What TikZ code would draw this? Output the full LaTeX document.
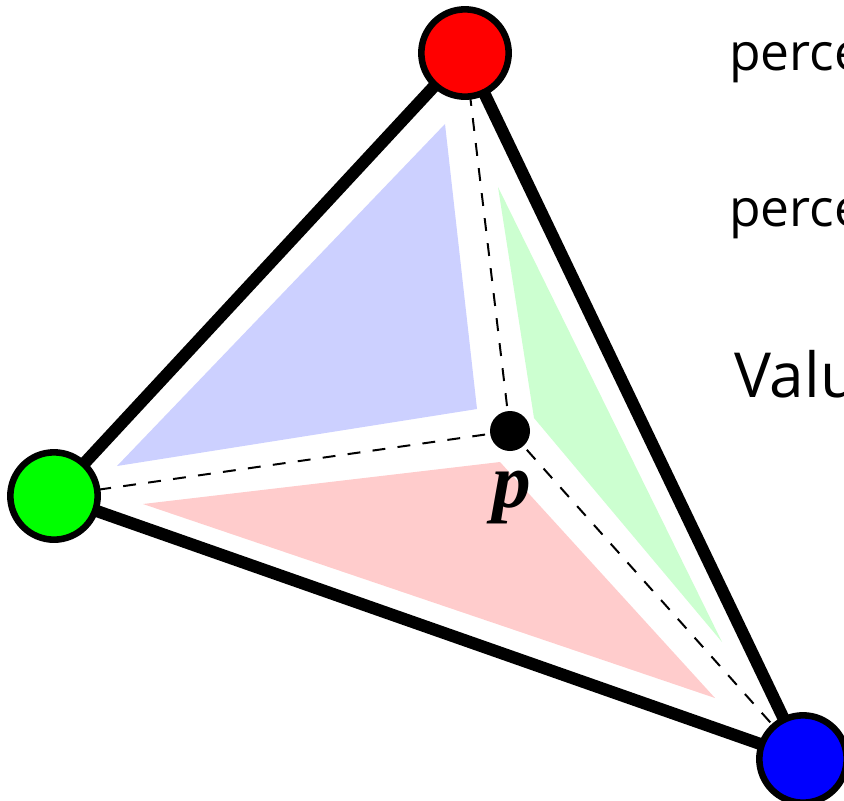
\documentclass[tikz,border=0pt]{standalone}
\usepackage{fontspec}
\setmainfont{Open Sans}
\newfontfamily\pfont{Liberation Serif}
\usetikzlibrary{positioning}
\definecolor{bluearea}{HTML}{CCD0FF}
\definecolor{greenarea}{HTML}{CCFFD0}
\definecolor{redarea}{HTML}{FFCCCC}

\begin{document}
\begin{tikzpicture}[
    x=0.03cm, y=-0.03cm,
    vertex/.style={draw, circle, line width=5.6pt, minimum size=2.62cm, inner sep=0pt, outer sep=0pt},
    point/.style={circle, fill=black, minimum size=1.2cm, inner sep=0pt, outer sep=0pt},
    edge/.style={line width=10.4pt},
    split/.style={line width=1.7pt, dash pattern=on 11pt off 10.5pt},
    small text/.style={anchor=base west, inner sep=0pt, font=\fontsize{44}{44}\selectfont},
    large text/.style={anchor=base west, inner sep=0pt, font=\fontsize{53}{53}\selectfont}
]

% Page
\useasboundingbox (0, 0) rectangle (844, 800);
\clip (0, 0) rectangle (844, 800);

% Corners
\coordinate (A) at (465, 53);
\coordinate (B) at (54, 496);
\coordinate (C) at (803, 759);
\coordinate (P) at (510, 431);

% Areas
\fill[bluearea] (445, 124) -- (117, 466) -- (477, 409) -- cycle;
\fill[greenarea] (498, 187) -- (722, 642) -- (534, 418) -- cycle;
\fill[redarea] (143, 504) -- (500, 462) -- (715, 698) -- cycle;

% Edges
\draw[edge] (A) -- (B);
\draw[edge] (B) -- (C);
\draw[edge] (C) -- (A);

% Splits
\draw[split] (P) -- (A);
\draw[split] (P) -- (B);
\draw[split] (P) -- (C);

% Vertices
\node[vertex, fill=red] (top) at (A) {};
\node[vertex, fill=green] (left) at (B) {};
\node[vertex, fill=blue] (right) at (C) {};
\node[point] (inner) at (P) {};
\node[anchor=base, inner sep=0pt, font=\pfont\bfseries\itshape\fontsize{66}{66}\selectfont] (name) at (512, 507) {p};

% Text
\node[small text] (line1) at (729, 70) {perce};
\node[small text] (line2) at (729, 226) {perce};
\node[large text] (line3) at (734, 397) {Valu};

\end{tikzpicture}
\end{document}
